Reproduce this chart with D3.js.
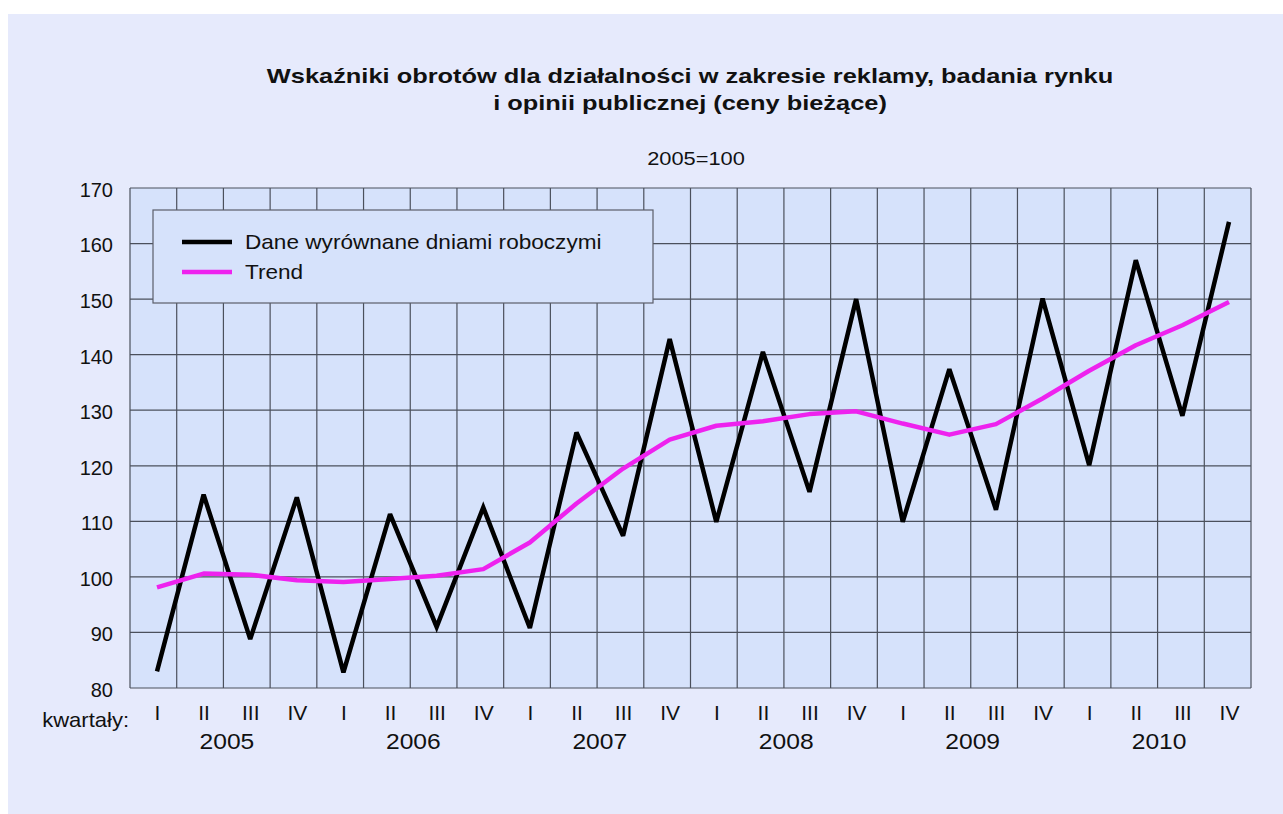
<!DOCTYPE html>
<html><head><meta charset="utf-8">
<script src="https://cdn.jsdelivr.net/npm/d3@7"></script>
<style>
html,body{margin:0;padding:0;background:#ffffff;}
svg{display:block;font-family:"Liberation Sans",Arial,Helvetica,sans-serif;}
</style></head>
<body>
<svg id="chart" width="1283" height="814"></svg>
<script>
const years = ["2005","2006","2007","2008","2009","2010"];
const quarterLabels = ["I","II","III","IV"];
const dataSeries = [83,114.8,88.8,114.3, 82.8,111.3,91.0,112.5, 90.8,126,107.4,142.8, 109.9,140.5,115.3,150, 109.9,137.4,112.1,150.1, 120.1,157,129,163.9];
const trendSeries = [98.1,100.6,100.4,99.4, 99.1,99.6,100.2,101.4, 106.2,113.2,119.5,124.7, 127.2,128.0,129.3,129.8, 127.6,125.6,127.5,132.1, 137.1,141.7,145.3,149.5];
const yTicks = [80,90,100,110,120,130,140,150,160,170];
const seriesNames = ["Dane wyrównane dniami roboczymi","Trend"];
const titleLines = ["Wskaźniki obrotów dla działalności w zakresie reklamy, badania rynku","i opinii publicznej (ceny bieżące)"];
const subtitle = "2005=100";
const xAxisLabel = "kwartały:";

const svg = d3.select("#chart");
const W = 1283, H = 814;
svg.append("rect").attr("x",0).attr("y",0).attr("width",W).attr("height",H).attr("fill","#ffffff");
svg.append("rect").attr("x",8).attr("y",14).attr("width",W-8).attr("height",H-14).attr("fill","#e6eafc");

// helper: horizontally stretched text
function stretchText(g, x, y, txt, size, sx, opts={}){
  const t = g.append("text")
    .attr("transform",`translate(${x},${y}) scale(${sx},1)`)
    .attr("x",0).attr("y",0)
    .attr("font-size",size).attr("fill","#111")
    .attr("text-anchor",opts.anchor||"start")
    .text(txt);
  if(opts.bold) t.attr("font-weight","bold");
  if(opts.dy) t.attr("dy",opts.dy);
  return t;
}

const plot = {left:130, right:1251, top:188, bottom:688};
const n = dataSeries.length;
const idx = d3.range(n);
const x = d3.scalePoint().domain(idx).range([157,1229]);
const xGrid = d3.scaleLinear().domain([0,n]).range([plot.left,plot.right]);
const y = d3.scaleLinear().domain([80,170]).range([plot.bottom,plot.top]);

svg.append("rect").attr("x",plot.left).attr("y",plot.top)
  .attr("width",plot.right-plot.left).attr("height",plot.bottom-plot.top)
  .attr("fill","#d6e2fb");

const gridColor = "#4b505c";
svg.append("g").selectAll("line").data(yTicks).join("line")
  .attr("x1",plot.left).attr("x2",plot.right)
  .attr("y1",d=>y(d)).attr("y2",d=>y(d))
  .attr("stroke",gridColor).attr("stroke-width",1.2);
svg.append("g").selectAll("line").data(d3.range(n+1)).join("line")
  .attr("x1",d=>xGrid(d)).attr("x2",d=>xGrid(d))
  .attr("y1",plot.top).attr("y2",plot.bottom)
  .attr("stroke",gridColor).attr("stroke-width",1.2);

// y axis labels
const yAxis = d3.axisLeft(y).tickValues(yTicks).tickSize(0).tickPadding(17);
const gy = svg.append("g").attr("transform",`translate(${plot.left},2)`).call(yAxis);
gy.select(".domain").remove();
gy.selectAll("text").attr("font-size",20).attr("fill","#111")
  .attr("font-family","Liberation Sans, Arial, sans-serif");

// x axis quarter labels
const xAxis = d3.axisBottom(x).tickSize(0).tickPadding(0)
  .tickFormat(i=>quarterLabels[i%4]);
const gx = svg.append("g").attr("transform",`translate(0,705)`).call(xAxis);
gx.select(".domain").remove();
gx.selectAll("text").attr("font-size",21).attr("fill","#111").attr("dy","0.73em")
  .attr("font-family","Liberation Sans, Arial, sans-serif");

// year labels
const yg = svg.append("g");
years.forEach((yr,i)=>{
  stretchText(yg,(x(i*4+1)+x(i*4+2))/2,749,yr,22,1.12,{anchor:"middle"});
});

stretchText(svg,129,727,xAxisLabel,20,1.1,{anchor:"end"});

// legend
const lg = svg.append("g");
lg.append("rect").attr("x",153).attr("y",210).attr("width",500).attr("height",93)
  .attr("fill","#d6e2fb").attr("stroke","#5a5e6a").attr("stroke-width",1.2);
const legendColors = ["#000000","#ee22ee"];
seriesNames.forEach((name,i)=>{
  const ly = 242 + i*30;
  lg.append("line").attr("x1",182).attr("x2",232).attr("y1",ly).attr("y2",ly)
    .attr("stroke",legendColors[i]).attr("stroke-width",4.5);
  stretchText(lg,245,ly,name,20,1.13,{dy:"0.35em"});
});

// lines
const line = d3.line().x((d,i)=>x(i)).y(d=>y(d));
svg.append("path").datum(dataSeries).attr("d",line)
  .attr("fill","none").attr("stroke","#000").attr("stroke-width",4.5).attr("stroke-linejoin","miter").attr("stroke-miterlimit",3);
svg.append("path").datum(trendSeries).attr("d",line)
  .attr("fill","none").attr("stroke","#ee22ee").attr("stroke-width",4.5).attr("stroke-linejoin","round");

// titles
titleLines.forEach((t,i)=>{
  stretchText(svg,690,83+i*27,t,21,1.21,{anchor:"middle",bold:true});
});
stretchText(svg,696,165,subtitle,18.5,1.18,{anchor:"middle"});
</script>
</body></html>
